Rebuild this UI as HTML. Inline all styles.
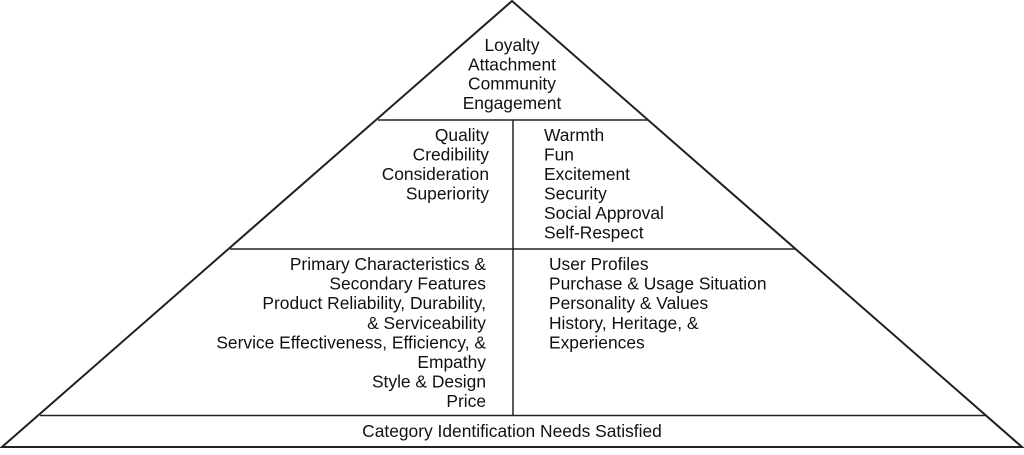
<!DOCTYPE html>
<html><head><style>
body{margin:0;width:1024px;height:450px;background:#fff;overflow:hidden}
svg text{font-family:"Liberation Sans",sans-serif;font-size:17.4px;fill:#111}
</style></head><body>
<svg width="1024" height="450" viewBox="0 0 1024 450">
<g stroke="#222" fill="none">
<polygon points="512,1 1022,447 2,447" stroke-width="2"/>
<line x1="378" y1="120" x2="648" y2="120" stroke-width="1.5"/>
<line x1="230" y1="249" x2="795" y2="249" stroke-width="1.5"/>
<line x1="40" y1="415.5" x2="985" y2="415.5" stroke-width="1.5"/>
<line x1="513" y1="120" x2="513" y2="415.5" stroke-width="1.5"/>
</g>
<g text-anchor="middle">
<text x="512" y="51">Loyalty</text>
<text x="512" y="70.3">Attachment</text>
<text x="512" y="89.6">Community</text>
<text x="512" y="108.9">Engagement</text>
<text x="512" y="437">Category Identification Needs Satisfied</text>
</g>
<g text-anchor="end">
<text x="489" y="141">Quality</text>
<text x="489" y="160.5">Credibility</text>
<text x="489" y="180">Consideration</text>
<text x="489" y="199.5">Superiority</text>
<text x="486" y="270">Primary Characteristics &amp;</text>
<text x="486" y="289.6">Secondary Features</text>
<text x="486" y="309.2">Product Reliability, Durability,</text>
<text x="486" y="328.8">&amp; Serviceability</text>
<text x="486" y="348.4">Service Effectiveness, Efficiency, &amp;</text>
<text x="486" y="368">Empathy</text>
<text x="486" y="387.6">Style &amp; Design</text>
<text x="486" y="407.2">Price</text>
</g>
<g>
<text x="544" y="141">Warmth</text>
<text x="544" y="160.5">Fun</text>
<text x="544" y="180">Excitement</text>
<text x="544" y="199.5">Security</text>
<text x="544" y="219">Social Approval</text>
<text x="544" y="238.5">Self-Respect</text>
<text x="549" y="270">User Profiles</text>
<text x="549" y="289.6">Purchase &amp; Usage Situation</text>
<text x="549" y="309.2">Personality &amp; Values</text>
<text x="549" y="328.8">History, Heritage, &amp;</text>
<text x="549" y="348.4">Experiences</text>
</g>
</svg>
</body></html>
